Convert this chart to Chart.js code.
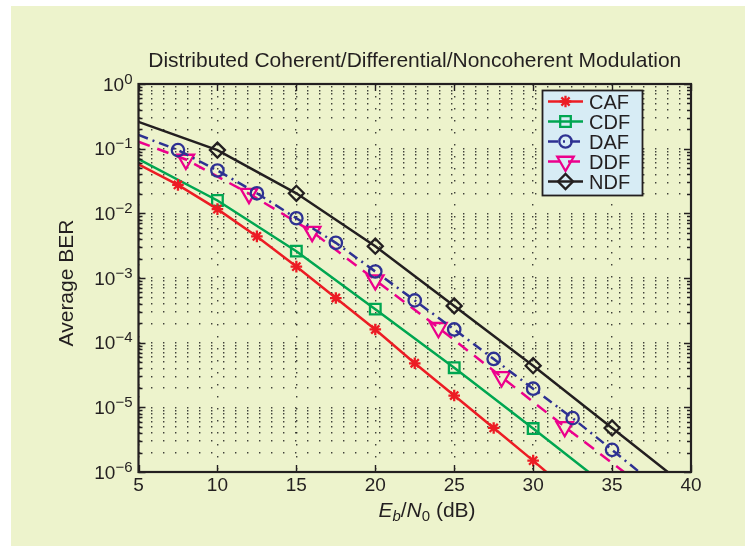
<!DOCTYPE html>
<html><head><meta charset="utf-8">
<script src="https://cdn.jsdelivr.net/npm/chart.js@4.4.1/dist/chart.umd.min.js"></script>
<style>html,body{margin:0;padding:0;background:#fff;}canvas{display:block;}</style>
</head><body>
<canvas id="c" width="745" height="546" style="width:745px;height:546px"></canvas>
<script>
// ---- data ----
const xTicks = [5, 10, 15, 20, 25, 30, 35, 40];
const yDecades = [-6, -5, -4, -3, -2, -1, 0];
const yMinorMult = [1, 2, 3, 4, 5, 6, 7, 8, 9];

const cafX = [5, 7.5, 10, 12.5, 15, 17.5, 20, 22.5, 25, 27.5, 30, 32.5];
const cafY = [0.057, 0.0275, 0.0116, 0.0044, 0.0015, 4.9e-4, 1.6e-4, 4.8e-5, 1.52e-5, 4.8e-6, 1.5e-6, 4.5e-7];
const cafMarks = [7.5, 10, 12.5, 15, 17.5, 20, 22.5, 25, 27.5, 30];

const cdfX = [5, 10, 15, 20, 25, 30, 35];
const cdfY = [0.069, 0.0158, 0.0026, 3.3e-4, 4.1e-5, 4.7e-6, 5.2e-7];
const cdfMarks = [10, 15, 20, 25, 30];

const dafX = [5, 7.5, 10, 12.5, 15, 17.5, 20, 22.5, 25, 27.5, 30, 32.5, 35, 37.5];
const dafY = [0.163, 0.095, 0.046, 0.0204, 0.0084, 0.0035, 0.00126, 4.5e-4, 1.6e-4, 5.6e-5, 1.94e-5, 6.8e-6, 2.2e-6, 7e-7];
const dafMarks = [7.5, 10, 12.5, 15, 17.5, 20, 22.5, 25, 27.5, 30, 32.5, 35];

const ddfX = [5, 8, 12, 16, 20, 24, 28, 32, 36];
const ddfY = [0.128, 0.068, 0.0202, 0.0052, 9.3e-4, 1.7e-4, 2.95e-5, 5.0e-6, 9e-7];
const ddfMarks = [8, 12, 16, 20, 24, 28, 32];

const ndfX = [5, 10, 15, 20, 25, 30, 35, 40];
const ndfY = [0.26, 0.095, 0.0204, 0.0031, 3.7e-4, 4.4e-5, 4.8e-6, 5.2e-7];
const ndfMarks = [10, 15, 20, 25, 30, 35];

const seriesNames = ['CAF', 'CDF', 'DAF', 'DDF', 'NDF'];
const titleText = 'Distributed Coherent/Differential/Noncoherent Modulation';
const yAxisText = 'Average BER';

// ---- styles ----
const BG = '#edf3cc';
const INK = '#231f20';
const FONT = '"Liberation Sans", Arial, Helvetica, sans-serif';
const styles = [
  {color: '#ec1c24', style: 'star', r: 5.8, rot: 0, dash: []},
  {color: '#00a651', style: 'rect', r: 7.5, rot: 0, dash: []},
  {color: '#2e3192', style: 'circle', r: 6.2, rot: 0, dash: [10, 5, 2, 5]},
  {color: '#ec008c', style: 'triangle', r: 9.5, rot: 180, dash: [12, 8]},
  {color: '#231f20', style: 'rectRot', r: 7.5, rot: 0, dash: []}
];
const allX = [cafX, cdfX, dafX, ddfX, ndfX];
const allY = [cafY, cdfY, dafY, ddfY, ndfY];
const allMarks = [cafMarks, cdfMarks, dafMarks, ddfMarks, ndfMarks];

const datasets = seriesNames.map((name, i) => ({
  label: name,
  data: allX[i].map((x, j) => ({x: x, y: allY[i][j]})),
  borderColor: styles[i].color,
  borderWidth: 2.5,
  borderDash: styles[i].dash,
  tension: 0,
  fill: false,
  pointStyle: styles[i].style,
  pointRotation: styles[i].rot,
  pointBorderColor: styles[i].color,
  pointBackgroundColor: 'rgba(0,0,0,0)',
  pointBorderWidth: 2.3,
  pointRadius: (c) => (c.raw && allMarks[i].includes(c.raw.x)) ? styles[i].r : 0,
  pointHoverRadius: 0
}));

const yTickVals = [];
yDecades.forEach(k => {
  if (k === 0) { yTickVals.push(1); return; }
  yMinorMult.forEach(m => yTickVals.push(m * Math.pow(10, k)));
});

function drawMarker(ctx, st, x, y) {
  if (Chart.helpers && Chart.helpers.drawPoint) {
    Chart.helpers.drawPoint(ctx, {pointStyle: st.style, radius: st.r, rotation: st.rot, borderWidth: 2.3}, x, y);
  }
}

const deco = {
  id: 'deco',
  beforeDraw(chart) {
    const ctx = chart.ctx;
    ctx.save();
    ctx.fillStyle = '#ffffff';
    ctx.fillRect(0, 0, chart.width, chart.height);
    ctx.fillStyle = BG;
    ctx.fillRect(11, 6, chart.width - 11, chart.height - 6);
    ctx.restore();
  },
  afterDraw(chart) {
    const ctx = chart.ctx;
    const xs = chart.scales.x, ys = chart.scales.y;
    const L = xs.getPixelForValue(xTicks[0]);
    const R = xs.getPixelForValue(xTicks[xTicks.length - 1]);
    const T = ys.getPixelForValue(1);
    const B = ys.getPixelForValue(1e-6);
    ctx.save();
    // inner ticks
    ctx.strokeStyle = INK;
    ctx.lineWidth = 1.4;
    ctx.beginPath();
    xTicks.forEach(v => {
      const px = Math.round(xs.getPixelForValue(v)) + 0.5;
      ctx.moveTo(px, B); ctx.lineTo(px, B - 7);
      ctx.moveTo(px, T); ctx.lineTo(px, T + 7);
    });
    yTickVals.forEach(v => {
      const py = Math.round(ys.getPixelForValue(v)) + 0.5;
      const major = Math.abs(Math.log10(v) - Math.round(Math.log10(v))) < 1e-9;
      const len = major ? 7 : 4;
      ctx.moveTo(L, py); ctx.lineTo(L + len, py);
      ctx.moveTo(R, py); ctx.lineTo(R - len, py);
    });
    ctx.stroke();
    // axis box
    ctx.lineWidth = 2.2;
    ctx.strokeRect(L, T, R - L, B - T);

    ctx.fillStyle = INK;
    // x tick labels
    ctx.font = '19px ' + FONT;
    ctx.textAlign = 'center';
    ctx.textBaseline = 'alphabetic';
    xTicks.forEach(v => ctx.fillText(String(v), xs.getPixelForValue(v), 491));
    // y tick labels with superscript
    ctx.textAlign = 'left';
    yDecades.forEach(k => {
      const py = ys.getPixelForValue(Math.pow(10, k));
      const sup = k === 0 ? '0' : '\u2212' + (-k);
      ctx.font = '19px ' + FONT;
      const w1 = ctx.measureText('10').width;
      ctx.font = '15px ' + FONT;
      const w2 = ctx.measureText(sup).width;
      const x0 = 132.5 - w1 - w2;
      ctx.font = '19px ' + FONT;
      ctx.fillText('10', x0, py + 6.8);
      ctx.font = '15px ' + FONT;
      ctx.fillText(sup, x0 + w1, py - 0.5);
    });
    // title
    ctx.font = '21px ' + FONT;
    ctx.textAlign = 'center';
    ctx.fillText(titleText, (L + R) / 2, 67);
    // y axis label
    ctx.save();
    ctx.translate(72.5, 283);
    ctx.rotate(-Math.PI / 2);
    ctx.font = '21px ' + FONT;
    ctx.textAlign = 'center';
    ctx.fillText(yAxisText, 0, 0);
    ctx.restore();
    // x axis label  E_b/N_0 (dB)
    const parts = [
      {t: 'E', f: 'italic 21px ', dy: 0},
      {t: 'b', f: 'italic 15px ', dy: 4},
      {t: '/', f: '21px ', dy: 0},
      {t: 'N', f: 'italic 21px ', dy: 0},
      {t: '0', f: '15px ', dy: 4},
      {t: ' (dB)', f: '21px ', dy: 0}
    ];
    let tw = 0;
    parts.forEach(p => { ctx.font = p.f + FONT; p.w = ctx.measureText(p.t).width; tw += p.w; });
    let cx = 427 - tw / 2;
    ctx.textAlign = 'left';
    parts.forEach(p => { ctx.font = p.f + FONT; ctx.fillText(p.t, cx, 516.5 + p.dy); cx += p.w; });

    // legend
    const bx = 542.5, by = 90.5, bw = 100, bh = 105;
    ctx.fillStyle = '#d7ecf5';
    ctx.fillRect(bx, by, bw, bh);
    ctx.strokeStyle = INK;
    ctx.lineWidth = 1.8;
    ctx.strokeRect(bx, by, bw, bh);
    seriesNames.forEach((name, i) => {
      const ry = 101.5 + i * 20;
      const st = styles[i];
      ctx.save();
      ctx.strokeStyle = st.color;
      ctx.lineWidth = 2.5;
      ctx.setLineDash(st.dash);
      ctx.beginPath();
      ctx.moveTo(548, ry); ctx.lineTo(583, ry);
      ctx.stroke();
      ctx.setLineDash([]);
      ctx.fillStyle = 'rgba(0,0,0,0)';
      ctx.lineWidth = 2.3;
      drawMarker(ctx, st, 565.5, ry);
      ctx.restore();
      ctx.fillStyle = INK;
      ctx.font = '20px ' + FONT;
      ctx.textAlign = 'left';
      ctx.fillText(name, 589, ry + 7.2);
    });
    ctx.restore();
  }
};

const gridOpts = {color: 'rgba(20,20,20,0.8)', lineWidth: 1.4, drawTicks: false};
new Chart(document.getElementById('c'), {
  type: 'line',
  data: {datasets: datasets},
  plugins: [deco],
  options: {
    responsive: false,
    animation: false,
    devicePixelRatio: 1,
    layout: {padding: {left: 138.5, top: 84, right: 54, bottom: 74}},
    plugins: {legend: {display: false}, tooltip: {enabled: false}, title: {display: false}},
    scales: {
      x: {
        type: 'linear', min: 5, max: 40,
        afterBuildTicks: s => { s.ticks = xTicks.map(v => ({value: v})); },
        ticks: {display: false},
        grid: gridOpts,
        border: {display: false, dash: [1.4, 10.6]}
      },
      y: {
        type: 'logarithmic', min: 1e-6, max: 1,
        afterBuildTicks: s => { s.ticks = yTickVals.map(v => ({value: v})); },
        ticks: {display: false},
        grid: gridOpts,
        border: {display: false, dash: [1.4, 10.6]}
      }
    }
  }
});
</script>
</body></html>
